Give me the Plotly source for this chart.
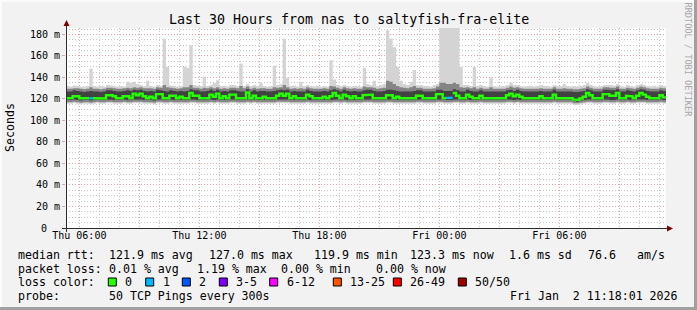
import plotly.graph_objects as go
import pandas as pd

# ---------------- data ----------------
START = "2026-01-01 05:20"      # left edge of the 30 h window
STEP = "10min"
N_SLOTS = 180

median_ms = [
    120.6, 120.8, 122.5, 122.5, 120.6, 120.6, 120.6, 120.6, 120.6, 120.6, 120.6, 120.4,
    123.5, 123.5, 122.5, 120.6, 120.6, 122.5, 122.5, 120.6, 125.0, 123.5, 125.0, 122.5,
    120.6, 122.0, 120.6, 124.5, 124.5, 120.6, 120.6, 123.0, 123.0, 120.6, 122.0, 120.6,
    120.6, 125.5, 123.0, 123.0, 120.6, 120.6, 120.6, 124.0, 122.0, 125.0, 120.6, 122.5,
    120.6, 124.0, 124.0, 120.6, 120.6, 120.6, 126.0, 120.6, 123.0, 120.6, 120.6, 122.0,
    120.6, 120.6, 120.6, 123.0, 125.0, 123.0, 125.0, 120.6, 122.5, 120.6, 120.6, 120.6,
    124.0, 122.5, 120.6, 120.6, 120.6, 122.0, 120.6, 122.5, 125.5, 123.0, 120.6, 124.0,
    122.5, 120.6, 122.5, 120.6, 120.6, 123.5, 124.0, 124.0, 120.6, 120.6, 120.6, 120.6,
    123.5, 123.5, 120.6, 122.0, 120.6, 120.6, 120.6, 120.6, 120.6, 123.0, 123.0, 120.6,
    120.6, 120.6, 120.6, 124.5, 124.5, 120.6, 121.0, 121.0, 125.5, 123.0, 120.6, 120.6,
    124.0, 122.0, 120.6, 120.6, 123.0, 120.6, 120.6, 120.6, 120.6, 120.6, 120.6, 120.6,
    123.5, 125.0, 122.5, 124.0, 122.0, 120.6, 120.6, 120.6, 120.6, 120.6, 122.5, 120.6,
    120.6, 120.6, 124.0, 120.6, 120.6, 120.6, 120.6, 120.6, 119.5, 119.0, 120.5, 122.0,
    125.5, 123.5, 120.6, 120.6, 120.6, 124.5, 124.5, 123.0, 123.0, 125.5, 120.6, 120.6,
    123.0, 122.5, 120.6, 123.0, 125.5, 124.0, 122.0, 120.6, 120.6, 120.6, 123.5, 121.5,
]

loss_pings = [
    0, 0, 0, 0, 0, 0, 0, 1, 0, 0, 0, 0,
    0, 0, 0, 0, 0, 0, 0, 0, 0, 0, 0, 0,
    0, 0, 0, 0, 0, 0, 0, 0, 0, 0, 0, 0,
    0, 0, 0, 0, 0, 0, 0, 0, 0, 0, 0, 0,
    0, 0, 0, 0, 0, 0, 0, 0, 0, 0, 0, 0,
    0, 0, 0, 0, 0, 0, 0, 0, 0, 0, 0, 0,
    0, 0, 0, 0, 0, 0, 0, 0, 0, 0, 0, 0,
    0, 0, 0, 0, 0, 0, 0, 0, 0, 0, 0, 0,
    0, 0, 0, 0, 0, 0, 0, 0, 0, 0, 0, 0,
    0, 0, 0, 0, 0, 0, 1, 1, 0, 0, 0, 0,
    0, 0, 0, 0, 0, 0, 0, 0, 0, 0, 0, 0,
    0, 0, 0, 0, 0, 0, 0, 0, 0, 0, 0, 0,
    0, 0, 0, 0, 0, 0, 0, 0, 0, 0, 0, 0,
    0, 0, 0, 0, 0, 0, 0, 0, 0, 0, 0, 0,
    0, 0, 0, 0, 0, 0, 0, 0, 0, 0, 0, 0,
]

smoke_light_hi = [
    132, 131.5, 132.5, 132, 131.5, 131.5, 132, 148, 132, 131.5, 132, 131.5,
    133, 132.5, 132, 131.5, 132, 131.5, 136, 135, 136, 134, 133, 132,
    137, 132, 131.5, 133, 132, 176, 150, 132.5, 132, 131.5, 132, 150,
    149, 170, 133, 132.5, 132, 141, 132, 133, 135, 137.5, 132, 132,
    131.5, 133, 133, 132, 153, 132, 134, 132, 133, 132, 135, 132,
    131.5, 132, 151, 133, 134, 176, 140, 132, 132.5, 131.5, 136, 132,
    133, 132, 131.5, 132, 131.5, 132, 131.5, 156, 138, 133, 132, 133,
    132, 131.5, 132, 132, 131.5, 149, 134, 133, 137, 132, 133, 134,
    184, 176, 168, 150, 137, 134, 133, 136, 147, 133, 133, 132,
    132, 131.5, 133, 134, 195, 195, 195, 195, 195, 195, 150, 133,
    133, 132, 150, 132, 133, 132, 131.5, 140, 132, 131.5, 132, 132,
    133, 135, 133, 133, 132, 131.5, 132, 132, 131.5, 132, 133, 132,
    132, 131.5, 133, 132, 132, 134, 132, 131.5, 132, 131.5, 132, 133,
    135, 133, 132, 131.5, 132, 133, 133, 133, 132.5, 134, 132, 131.5,
    133, 132, 131.5, 133, 134, 133, 132, 131.5, 132, 131.5, 133, 132,
]
smoke_light_lo = [
    115.5, 115.5, 116, 115.5, 115, 115.5, 115.5, 115, 115.5, 116, 115.5, 115.5,
    116, 116, 115.5, 115.5, 115.5, 116, 115.5, 115.5, 116, 116, 116, 115.5,
    115.5, 115.5, 115, 116, 116, 115.5, 115.5, 116, 115.5, 115.5, 115.5, 115.5,
    115.5, 116, 116, 115.5, 115.5, 115.5, 115.5, 116, 115.5, 116, 115.5, 115.5,
    115.5, 116, 116, 115.5, 115.5, 115.5, 116, 115.5, 116, 115.5, 115.5, 115.5,
    115.5, 115.5, 115.5, 116, 116, 116, 116, 115.5, 115.5, 115.5, 115.5, 115.5,
    116, 115.5, 115.5, 115.5, 115.5, 115.5, 115.5, 115.5, 116, 116, 115.5, 116,
    115.5, 115.5, 115.5, 115.5, 115.5, 116, 116, 116, 115.5, 115.5, 115.5, 115.5,
    116, 116, 115.5, 115.5, 115.5, 115.5, 115.5, 115.5, 115.5, 116, 116, 115.5,
    115.5, 115.5, 115.5, 116, 116, 115.5, 115.5, 115.5, 116, 116, 115.5, 115.5,
    116, 115.5, 115.5, 115.5, 116, 115.5, 115.5, 115.5, 115.5, 115.5, 115.5, 115.5,
    116, 116, 115.5, 116, 115.5, 115.5, 115.5, 115.5, 115.5, 115.5, 115.5, 115.5,
    115.5, 115.5, 116, 115.5, 115.5, 115.5, 115.5, 115.5, 114.5, 114.5, 115, 115.5,
    116, 116, 115.5, 115.5, 115.5, 116, 116, 115.5, 115.5, 116, 115.5, 115.5,
    116, 115.5, 115.5, 116, 116, 116, 115.5, 115.5, 115.5, 115.5, 116, 115.5,
]
smoke_mid_hi = [
    129.5, 129.5, 130, 130, 129.5, 129, 129.5, 131, 129.5, 129.5, 129, 129.5,
    130.5, 130.5, 130, 129.5, 129.5, 130, 130.5, 130, 131, 130.5, 131, 130,
    130, 130, 129.5, 131, 130.5, 133, 131, 130.5, 130, 129.5, 130, 131,
    131, 133, 130.5, 130.5, 129.5, 130.5, 130, 131, 130, 131, 129.5, 130,
    129.5, 130.5, 130.5, 130, 132, 130, 131.5, 129.5, 130.5, 129.5, 130, 130,
    129.5, 129.5, 131, 130.5, 131, 133, 131, 129.5, 130, 129.5, 130, 129.5,
    131, 130, 129.5, 129.5, 129.5, 130, 129.5, 132, 131.5, 130.5, 129.5, 131,
    130, 129.5, 130, 129.5, 129.5, 131.5, 131, 131, 130.5, 129.5, 130, 130.5,
    137, 136, 134, 132, 131, 130.5, 130, 131, 132, 130.5, 130.5, 129.5,
    129.5, 129.5, 130, 131.5, 135, 135, 134, 134, 135, 134, 131, 130.5,
    131, 130, 131, 129.5, 130.5, 129.5, 129.5, 131, 129.5, 129.5, 129.5, 129.5,
    130.5, 131.5, 130.5, 131, 130, 129.5, 129.5, 129.5, 129.5, 129.5, 130, 129.5,
    129.5, 129.5, 131, 129.5, 129.5, 130, 129.5, 129.5, 129, 129, 129.5, 130,
    131.5, 130.5, 129.5, 129.5, 129.5, 131, 131, 130.5, 130.5, 131.5, 129.5, 129.5,
    130.5, 130, 129.5, 130.5, 131.5, 131, 130, 129.5, 129.5, 129.5, 130.5, 130,
]
smoke_mid_lo = [
    117, 117, 117.5, 117, 116.5, 117, 117, 116.5, 117, 117.5, 117, 117,
    117.5, 117.5, 117, 117, 117, 117.5, 117, 117, 117.5, 117.5, 117.5, 117,
    117, 117, 116.5, 117.5, 117.5, 117, 117, 117.5, 117, 117, 117, 117,
    117, 117.5, 117.5, 117, 117, 117, 117, 117.5, 117, 117.5, 117, 117,
    117, 117.5, 117.5, 117, 117, 117, 117.5, 117, 117.5, 117, 117, 117,
    117, 117, 117, 117.5, 117.5, 117.5, 117.5, 117, 117, 117, 117, 117,
    117.5, 117, 117, 117, 117, 117, 117, 117, 117.5, 117.5, 117, 117.5,
    117, 117, 117, 117, 117, 117.5, 117.5, 117.5, 117, 117, 117, 117,
    117.5, 117.5, 117, 117, 117, 117, 117, 117, 117, 117.5, 117.5, 117,
    117, 117, 117, 117.5, 117.5, 117, 117, 117, 117.5, 117.5, 117, 117,
    117.5, 117, 117, 117, 117.5, 117, 117, 117, 117, 117, 117, 117,
    117.5, 117.5, 117, 117.5, 117, 117, 117, 117, 117, 117, 117, 117,
    117, 117, 117.5, 117, 117, 117, 117, 117, 116, 116, 116.5, 117,
    117.5, 117.5, 117, 117, 117, 117.5, 117.5, 117, 117, 117.5, 117, 117,
    117.5, 117, 117, 117.5, 117.5, 117.5, 117, 117, 117, 117, 117.5, 117,
]
smoke_dark_hi = [
    127, 127, 128, 127.5, 127, 126.5, 127, 127.5, 127, 127, 126.5, 127,
    128, 128, 127.5, 127, 127, 127.5, 128, 127.5, 128.5, 128, 128.5, 127.5,
    127, 127.5, 127, 128.5, 128, 127.5, 127, 128, 127.5, 127, 127.5, 127,
    127.5, 129, 128, 128, 127, 127, 127.5, 128.5, 127.5, 128.5, 127, 127.5,
    127, 128, 128, 127.5, 127, 127, 129, 127, 128, 127, 127.5, 127.5,
    127, 127, 127.5, 128, 128.5, 128, 128.5, 127, 127.5, 127, 127, 127,
    128.5, 127.5, 127, 127, 127, 127.5, 127, 128, 129, 128, 127, 128.5,
    127.5, 127, 127.5, 127, 127, 128, 128.5, 128.5, 127.5, 127, 127, 127.5,
    128.5, 128.5, 128, 127.5, 127, 127, 127, 127, 127.5, 128, 128, 127,
    127, 127, 127, 128.5, 128.5, 127.5, 127.5, 127.5, 129, 128, 127, 127,
    128.5, 127.5, 127, 127, 128, 127, 127, 127, 127, 127, 127, 127,
    128, 128.5, 127.5, 128.5, 127.5, 127, 127, 127, 127, 127, 127.5, 127,
    127, 127, 128.5, 127, 127, 127, 127, 127, 126.5, 126.5, 127, 127.5,
    129, 128, 127, 127, 127, 128.5, 128.5, 128, 128, 129, 127, 127,
    128, 127.5, 127, 128, 129, 128.5, 127.5, 127, 127, 127, 128, 127.5,
]
smoke_dark_lo = [
    119, 119, 119.5, 119, 118.5, 119, 119, 118.5, 119, 119.5, 119, 119,
    119.5, 119.5, 119, 119, 119, 119.5, 119, 119, 119.5, 119.5, 119.5, 119,
    119, 119, 118.5, 119.5, 119.5, 119, 119, 119.5, 119, 119, 119, 119,
    119, 119.5, 119.5, 119, 119, 119, 119, 119.5, 119, 119.5, 119, 119,
    119, 119.5, 119.5, 119, 119, 119, 119.5, 119, 119.5, 119, 119, 119,
    119, 119, 119, 119.5, 119.5, 119.5, 119.5, 119, 119, 119, 119, 119,
    119.5, 119, 119, 119, 119, 119, 119, 119, 119.5, 119.5, 119, 119.5,
    119, 119, 119, 119, 119, 119.5, 119.5, 119.5, 119, 119, 119, 119,
    119.5, 119.5, 119, 119, 119, 119, 119, 119, 119, 119.5, 119.5, 119,
    119, 119, 119, 119.5, 119.5, 119, 119, 119, 119.5, 119.5, 119, 119,
    119.5, 119, 119, 119, 119.5, 119, 119, 119, 119, 119, 119, 119,
    119.5, 119.5, 119, 119.5, 119, 119, 119, 119, 119, 119, 119, 119,
    119, 119, 119.5, 119, 119, 119, 119, 119, 118, 117.5, 118.5, 119,
    119.5, 119.5, 119, 119, 119, 119.5, 119.5, 119, 119, 119.5, 119, 119,
    119.5, 119, 119, 119.5, 119.5, 119.5, 119, 119, 119, 119, 119.5, 119,
]

loss_labels = ["0", "1", "2", "3-5", "6-12", "13-25", "26-49", "50/50"]
loss_lo = [0, 1, 2, 3, 6, 13, 26, 50]
loss_hi = [0, 1, 2, 5, 12, 25, 49, 50]
loss_colors = ["#26ff00", "#00b8ff", "#0059ff", "#7e00ff", "#ff00ff", "#ff5500", "#ff0000", "#a00000"]

y_tick_vals = [0, 20, 40, 60, 80, 100, 120, 140, 160, 180]
y_tick_text = ["", "20 m", "40 m", "60 m", "80 m", "100 m", "120 m", "140 m", "160 m", "180 m"]
y_zero_label = "0"
x_tick_vals = ["2026-01-01 06:00", "2026-01-01 09:00", "2026-01-01 12:00", "2026-01-01 15:00",
               "2026-01-01 18:00", "2026-01-01 21:00", "2026-01-02 00:00", "2026-01-02 03:00",
               "2026-01-02 06:00", "2026-01-02 09:00"]
x_tick_text = ["Thu 06:00", "", "Thu 12:00", "", "Thu 18:00", "", "Fri 00:00", "", "Fri 06:00", ""]

stats_rtt = ["121.9 ms avg", "127.0 ms max", "119.9 ms min", "123.3 ms now", "1.6 ms sd", "76.6", "am/s"]
stats_loss = ["0.01 % avg", "1.19 % max", "0.00 % min", "0.00 % now"]
probe_text = "50 TCP Pings every 300s"
stamp_text = "Fri Jan  2 11:18:01 2026"
title_text = "Last 30 Hours from nas to saltyfish-fra-elite"

# ---------------- geometry ----------------
FW, FH = 697, 310
L, T, W, H = 66, 28, 600, 200
MONO = "DejaVu Sans Mono"


def px(x):
    return (x - L) / W


def py(y):
    return (T + H - y) / H


edges = list(pd.date_range(START, periods=N_SLOTS + 1, freq=STEP))
x_start, x_end = edges[0], edges[0] + pd.Timedelta(hours=30)

fig = go.Figure()


def band(lo, hi, color):
    fig.add_trace(go.Scatter(x=edges, y=lo + [lo[-1]], mode="lines",
                             line=dict(width=0, shape="hv"), hoverinfo="skip", showlegend=False))
    fig.add_trace(go.Scatter(x=edges, y=hi + [hi[-1]], mode="lines", fill="tonexty",
                             fillcolor=color, line=dict(width=0, shape="hv"),
                             hoverinfo="skip", showlegend=False))


band(smoke_light_lo, smoke_light_hi, "#d4d4d4")
band(smoke_mid_lo, smoke_mid_hi, "#858585")
band(smoke_dark_lo, smoke_dark_hi, "#424242")

# median line coloured by loss
for lo, hi, col in zip(loss_lo, loss_hi, loss_colors):
    xs, ys = [], []
    prev_in = False
    for i in range(N_SLOTS):
        inside = lo <= loss_pings[i] <= hi
        if inside:
            if not prev_in and xs:
                xs.append(None)
                ys.append(None)
            xs += [edges[i], edges[i + 1]]
            ys += [median_ms[i], median_ms[i]]
        prev_in = inside
    if xs:
        fig.add_trace(go.Scatter(x=xs, y=ys, mode="lines", line=dict(color=col, width=2.4),
                                 hoverinfo="skip", showlegend=False, connectgaps=False))

shapes = []
annotations = []

# frame
shapes.append(dict(type="line", xref="paper", yref="paper", x0=px(0), x1=px(FW), y0=py(1), y1=py(1),
                   line=dict(color="#fbfbfb", width=2)))
shapes.append(dict(type="line", xref="paper", yref="paper", x0=px(1), x1=px(1), y0=py(0), y1=py(FH),
                   line=dict(color="#fbfbfb", width=2)))
shapes.append(dict(type="line", xref="paper", yref="paper", x0=px(0), x1=px(FW), y0=py(308.5), y1=py(308.5),
                   line=dict(color="#a0a0a0", width=3)))
shapes.append(dict(type="line", xref="paper", yref="paper", x0=px(695.5), x1=px(695.5), y0=py(0), y1=py(FH),
                   line=dict(color="#a0a0a0", width=3)))

# axes with arrows
AX = "#2c2c2c"
shapes.append(dict(type="line", xref="paper", yref="paper", x0=px(62), x1=px(668), y0=py(228.5), y1=py(228.5),
                   line=dict(color=AX, width=1)))
shapes.append(dict(type="line", xref="paper", yref="paper", x0=px(66.5), x1=px(66.5), y0=py(232), y1=py(25),
                   line=dict(color=AX, width=1)))
shapes.append(dict(type="path", xref="paper", yref="paper",
                   path=f"M {px(63.5)} {py(26)} L {px(69.5)} {py(26)} L {px(66.5)} {py(20)} Z",
                   fillcolor="#7f0000", line=dict(width=0)))
shapes.append(dict(type="path", xref="paper", yref="paper",
                   path=f"M {px(667)} {py(225.5)} L {px(667)} {py(231.5)} L {px(673)} {py(228.5)} Z",
                   fillcolor="#7f0000", line=dict(width=0)))

# texts
annotations.append(dict(text=title_text, xref="paper", yref="paper", x=px(348.5), y=py(19),
                        xanchor="center", yanchor="middle", showarrow=False,
                        font=dict(family=MONO, size=13.3, color="#000")))
annotations.append(dict(text="Seconds", xref="paper", yref="paper", x=px(10), y=py(128), textangle=-90,
                        xanchor="center", yanchor="middle", showarrow=False,
                        font=dict(family=MONO, size=11.6, color="#000")))
annotations.append(dict(text="RRDTOOL / TOBI OETIKER", xref="paper", yref="paper", x=px(687.5), y=py(60),
                        textangle=90, xanchor="center", yanchor="middle", showarrow=False,
                        font=dict(family=MONO, size=8.6, color="#a8a8a8")))
# the "0" axis label sits in the digit column, left of the "m" column
annotations.append(dict(text=y_zero_label, xref="paper", yref="y", x=px(48.5), y=0,
                        xanchor="right", yanchor="middle", showarrow=False,
                        font=dict(family=MONO, size=10, color="#000")))

LEG = dict(family=MONO, size=11.6, color="#000")


def label(x, y, s, anchor="left"):
    annotations.append(dict(text=s, xref="paper", yref="paper", x=px(x), y=py(y), xanchor=anchor,
                            yanchor="middle", showarrow=False, font=LEG))


label(16, 255, "median rtt:")
for xx, s in zip([107, 207.3, 312, 407.7, 506.7, 585.7, 635], stats_rtt):
    label(xx, 255, s)
label(16, 268.5, "packet loss:")
for xx, s in zip([107.3, 195, 279.3, 374.3], stats_loss):
    label(xx, 268.5, s)
label(16, 282.3, "loss color:")
box_x = [108.3, 145.7, 182.3, 219.3, 269.7, 333.3, 393.3, 458.3]
for bx, lab, col in zip(box_x, loss_labels, loss_colors):
    shapes.append(dict(type="rect", xref="paper", yref="paper", x0=px(bx), x1=px(bx + 8),
                       y0=py(286), y1=py(278), fillcolor=col, line=dict(color="#000", width=1)))
    label(bx + 15, 282.3, lab)
label(16, 295.8, "probe:")
label(107.3, 295.8, probe_text)
label(680, 295.8, stamp_text, anchor="right")

GRID_MAJ = "#eaa4a4"
GRID_MIN = "#c8c8c8"
minor_x = [str(t) for t in pd.date_range("2026-01-01 06:00", "2026-01-02 11:00", freq="1h")
           if t.hour % 3 != 0]
minor_y = [v for v in range(5, 186, 5) if v % 20 != 0]

fig.update_layout(
    width=FW, height=FH,
    margin=dict(l=L, r=FW - L - W, t=T, b=FH - T - H, autoexpand=False),
    paper_bgcolor="#f2f2f2", plot_bgcolor="#ffffff",
    showlegend=False,
    shapes=shapes, annotations=annotations,
    xaxis=dict(type="date", range=[x_start, x_end], tickmode="array", tickvals=x_tick_vals,
               ticktext=x_tick_text, showgrid=True, gridcolor=GRID_MAJ, griddash="1px,2px",
               gridwidth=1, zeroline=False, showline=False, ticks="",
               tickfont=dict(family=MONO, size=10, color="#000"),
               minor=dict(tickmode="array", tickvals=minor_x, showgrid=True, gridcolor=GRID_MIN,
                          griddash="1px,2px", gridwidth=1, ticks=""),
               fixedrange=True),
    yaxis=dict(range=[0, 186], tickmode="array", tickvals=y_tick_vals, ticktext=y_tick_text,
               showgrid=True, gridcolor=GRID_MAJ, griddash="1px,2px", gridwidth=1,
               zeroline=False, showline=False, ticks="outside", ticklen=3, tickcolor="#e8a0a0",
               tickfont=dict(family=MONO, size=10, color="#000"),
               minor=dict(tickmode="array", tickvals=minor_y, showgrid=True, gridcolor=GRID_MIN,
                          griddash="1px,2px", gridwidth=1, ticks=""),
               fixedrange=True),
)

fig.write_html("out.html", config={"displayModeBar": False})
